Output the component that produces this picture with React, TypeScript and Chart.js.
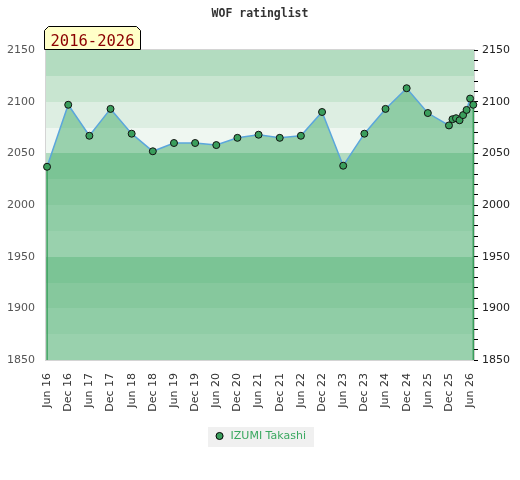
import React, { useEffect, useRef } from "react";
import { Chart, registerables } from "chart.js";

Chart.register(...registerables);

// ---- data ----
const chartTitle = "WOF ratinglist";
const periodLabel = "2016-2026";
const playerName = "IZUMI Takashi";

const dates = [
  "2016-06-01", "2016-12-01", "2017-06-01", "2017-12-01", "2018-06-01",
  "2018-12-01", "2019-06-01", "2019-12-01", "2020-06-01", "2020-12-01",
  "2021-06-01", "2021-12-01", "2022-06-01", "2022-12-01", "2023-06-01",
  "2023-12-01", "2024-06-01", "2024-12-01", "2025-06-01", "2025-12-01",
  "2026-01-01", "2026-02-01", "2026-03-01", "2026-04-01", "2026-05-01",
  "2026-06-01", "2026-06-28",
];
const ratings = [
  2037, 2097, 2067, 2093, 2069,
  2052, 2060, 2060, 2058, 2065,
  2068, 2065, 2067, 2090, 2038,
  2069, 2093, 2113, 2089, 2077,
  2083, 2084, 2082, 2087, 2092,
  2103, 2097,
];
const xTickLabels = [
  "Jun 16", "Dec 16", "Jun 17", "Dec 17", "Jun 18", "Dec 18", "Jun 19",
  "Dec 19", "Jun 20", "Dec 20", "Jun 21", "Dec 21", "Jun 22", "Dec 22",
  "Jun 23", "Dec 23", "Jun 24", "Dec 24", "Jun 25", "Dec 25", "Jun 26",
];
const yTicks = [1850, 1900, 1950, 2000, 2050, 2100, 2150];
const bandEdges = [
  1850, 1875, 1900, 1925, 1950, 1975, 2000, 2025, 2050, 2075, 2100, 2125, 2150,
];

// ---- styles ----
const BAND_COLORS = ["#eff7f1", "#ddeee2", "#c8e5d0", "#b3dcc0"];
const POINT_GREEN = "#3a9e5c";
const FONT = "DejaVu Sans";

const monthIndex = (d: string) => {
  const [y, m, day] = d.split("-").map(Number);
  return (y - 2016) * 12 + (m - 6) + (day - 1) / 30;
};
const tickMonth = (label: string) => {
  const [mon, yy] = label.split(" ");
  return (Number(yy) - 16) * 12 + (mon === "Dec" ? 6 : 0);
};

const decorPlugin = {
  id: "decor",
  beforeDraw(chart: any) {
    const { ctx, chartArea: a, scales } = chart;
    const y = scales.y;
    ctx.save();
    const hb = chart.legend && chart.legend.legendHitBoxes && chart.legend.legendHitBoxes[0];
    if (hb) {
      ctx.fillStyle = "#f0f0f0";
      ctx.fillRect(Math.round(hb.left - 6), Math.round(hb.top - 4), Math.round(hb.width + 14), 20);
    }
    for (let i = 0; i < bandEdges.length - 1; i++) {
      const top = Math.round(y.getPixelForValue(bandEdges[i + 1]));
      const bot = Math.round(y.getPixelForValue(bandEdges[i]));
      ctx.fillStyle = BAND_COLORS[i % BAND_COLORS.length];
      ctx.fillRect(a.left, top, a.right - a.left, bot - top);
    }
    ctx.strokeStyle = "#d4d4d4";
    ctx.lineWidth = 1;
    ctx.strokeRect(a.left - 0.5, a.top - 0.5, a.right - a.left + 1, a.bottom - a.top + 1);
    ctx.restore();
  },
  beforeDatasetDraw(chart: any) {
    const { ctx, chartArea: a } = chart;
    const meta = chart.getDatasetMeta(0);
    const pts = [meta.data[0], meta.data[meta.data.length - 1]];
    ctx.save();
    ctx.strokeStyle = POINT_GREEN;
    ctx.lineWidth = 1.5;
    pts.forEach((p: any) => {
      ctx.beginPath();
      ctx.moveTo(p.x, p.y);
      ctx.lineTo(p.x, a.bottom);
      ctx.stroke();
    });
    ctx.restore();
  },
  afterDraw(chart: any) {
    const { ctx, chartArea: a } = chart;
    const left = a.left - 1.5;
    const right = left + 96;
    const top = 26.5;
    const bottom = a.top - 0.5;
    const c = 4;
    ctx.save();
    ctx.beginPath();
    ctx.moveTo(left, bottom);
    ctx.lineTo(left, top + c);
    ctx.lineTo(left + c, top);
    ctx.lineTo(right - c, top);
    ctx.lineTo(right, top + c);
    ctx.lineTo(right, bottom);
    ctx.closePath();
    ctx.fillStyle = "#ffffc8";
    ctx.fill();
    ctx.strokeStyle = "#000";
    ctx.lineWidth = 1;
    ctx.stroke();
    ctx.fillStyle = "#8b0000";
    ctx.font = "15.5px 'DejaVu Sans Mono'";
    ctx.textAlign = "center";
    ctx.textBaseline = "alphabetic";
    ctx.fillText(periodLabel, (left + right) / 2, 46);
    ctx.restore();
  },
};

export default function App() {
  const ref = useRef<HTMLCanvasElement | null>(null);

  useEffect(() => {
    if (!ref.current) return;
    const points = dates.map((d, i) => ({ x: monthIndex(d), y: ratings[i] }));
    const xMin = points[0].x - 0.3;
    const xMax = points[points.length - 1].x + 0.2;

    const chart = new Chart(ref.current, {
      type: "line",
      data: {
        datasets: [
          {
            label: playerName,
            data: points,
            yAxisID: "y",
            fill: "start",
            backgroundColor: "rgba(67,172,105,0.5)",
            borderColor: "#5ba6dc",
            borderWidth: 1.5,
            tension: 0,
            pointRadius: 3.5,
            pointBackgroundColor: POINT_GREEN,
            pointBorderColor: "#111",
            pointBorderWidth: 1,
            clip: false as any,
          },
        ],
      },
      options: {
        responsive: false,
        animation: false,
        events: [],
        layout: { padding: { left: 0, right: 0, top: 0, bottom: 28.5 } },
        plugins: {
          title: {
            display: true,
            text: chartTitle,
            color: "#333",
            font: { family: "DejaVu Sans Mono", size: 11.5, weight: "bold" },
            padding: { top: 7, bottom: 29.2 },
          },
          legend: {
            display: true,
            position: "bottom",
            labels: {
              color: "#3aa860",
              font: { family: FONT, size: 11 },
              usePointStyle: true,
              boxWidth: 11,
              boxHeight: 5,
              padding: 6.5,
              generateLabels: () => [
                {
                  text: playerName,
                  fillStyle: POINT_GREEN,
                  strokeStyle: "#000",
                  lineWidth: 1,
                  pointStyle: "circle",
                  hidden: false,
                  datasetIndex: 0,
                  fontColor: "#3aa860",
                } as any,
              ],
            },
          },
          tooltip: { enabled: false },
        },
        scales: {
          x: {
            type: "linear",
            min: xMin,
            max: xMax,
            grid: { display: false },
            border: { display: false },
            afterBuildTicks: (scale: any) => {
              scale.ticks = xTickLabels.map((l) => ({ value: tickMonth(l) }));
            },
            afterFit: (scale: any) => {
              scale.height = 64;
            },
            ticks: {
              autoSkip: false,
              minRotation: 90,
              maxRotation: 90,
              padding: 5,
              color: "#333",
              font: { family: FONT, size: 11 },
              callback: (_v: any, i: number) => xTickLabels[i],
            },
          },
          y: {
            type: "linear",
            position: "left",
            min: yTicks[0],
            max: yTicks[yTicks.length - 1],
            grid: { display: false, drawTicks: false },
            border: { display: false },
            afterBuildTicks: (scale: any) => {
              scale.ticks = yTicks.map((v) => ({ value: v }));
            },
            afterFit: (scale: any) => {
              scale.width = 46;
            },
            ticks: {
              padding: 11,
              color: "#555",
              font: { family: FONT, size: 11 },
              callback: (v: any) => String(v),
            },
          },
          y2: {
            type: "linear",
            position: "right",
            min: yTicks[0],
            max: yTicks[yTicks.length - 1],
            grid: {
              display: true,
              drawOnChartArea: false,
              drawTicks: true,
              tickLength: 4,
              color: "#000",
              lineWidth: 1,
            },
            border: { display: false },
            afterFit: (scale: any) => {
              scale.width = 46;
            },
            ticks: {
              stepSize: 10,
              autoSkip: false,
              padding: 4,
              color: "#222",
              font: { family: FONT, size: 11 },
              callback: (v: any) => (yTicks.includes(Number(v)) ? String(v) : ""),
            },
          },
        },
      },
      plugins: [decorPlugin],
    } as any);

    return () => chart.destroy();
  }, []);

  return (
    <div style={{ position: "absolute", left: 0, top: 0, width: 520, height: 480, background: "#fff" }}>
      <canvas ref={ref} width={520} height={480} style={{ display: "block" }} />
    </div>
  );
}
